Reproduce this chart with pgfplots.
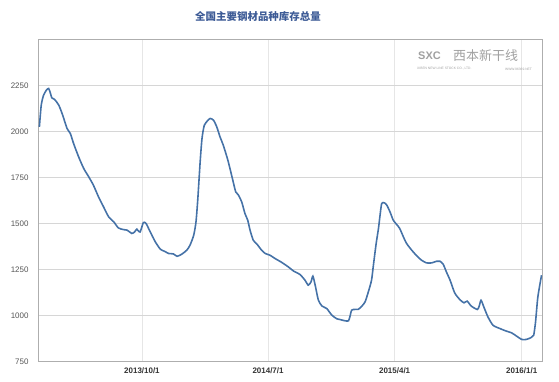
\documentclass[border=0pt]{standalone}
\usepackage{pgfplots}
\pgfplotsset{compat=1.18}
\usepackage{fontspec}
\setmainfont{Liberation Sans}
\newfontfamily\cjk{Noto Sans CJK SC}
\definecolor{series}{HTML}{4572A7}
\definecolor{titleblue}{HTML}{3D5B96}
\definecolor{gridc}{HTML}{D6D6D6}
\definecolor{vgrid}{HTML}{E6E6E6}
\definecolor{framec}{HTML}{AEAEAE}
\definecolor{ticklab}{HTML}{555555}
\definecolor{wm}{HTML}{A0A0A0}
\begin{document}
\begin{tikzpicture}
\useasboundingbox (0,0) rectangle (559bp,382bp);
\begin{axis}[
 at={(38bp,20.3bp)}, anchor=south west,
 scale only axis, width=504bp, height=322bp,
 xmin=-225, xmax=866, ymin=750, ymax=2500,
 xtick={0,273,547,822}, xticklabels={2013/10/1,2014/7/1,2015/4/1,2016/1/1},
 ytick={750,1000,...,2250},
 xmajorgrids, ymajorgrids,
 x grid style={draw=vgrid, line width=0.8pt},
 y grid style={draw=gridc, line width=0.8pt},
 axis line style={draw=framec, line width=0.9pt},
 major tick length=0pt,
 tick label style={font=\fontsize{8}{9}\selectfont},
 yticklabel style={color=ticklab, xshift=-6bp},
 xticklabel style={color=black!80, yshift=-3bp, font=\bfseries\fontsize{8}{9}\selectfont},
 /pgf/number format/assume math mode=true,
 /pgf/number format/1000 sep={},
]
\addplot[series, line width=1.6pt, smooth, tension=0.4] coordinates {
(-222,2026) (-218,2144) (-213,2198) (-207,2225) (-202,2235) (-198,2208) (-195,2184) (-189,2175) (-180,2144) (-172,2093) (-162,2017) (-155,1990) (-148,1936) (-137,1863) (-126,1800) (-115,1754) (-105,1709) (-94,1646) (-83,1591) (-72,1537) (-61,1510) (-51,1477) (-40,1468) (-32,1465) (-22,1447) (-16,1455) (-11,1470) (-4,1455) (3,1506) (9,1501) (18,1455) (29,1401) (40,1361) (49,1350) (58,1338) (68,1336) (76,1323) (86,1334) (97,1356) (104,1383) (112,1437) (117,1510) (121,1637) (126,1836) (130,1963) (135,2035) (143,2062) (148,2072) (155,2062) (162,2026) (169,1972) (176,1927) (186,1845) (195,1754) (203,1673) (209,1655) (216,1618) (223,1555) (229,1519) (234,1465) (241,1410) (249,1389) (259,1356) (267,1338) (277,1329) (288,1311) (303,1289) (317,1265) (328,1243) (342,1224) (353,1193) (360,1166) (366,1184) (370,1215) (375,1166) (382,1084) (390,1052) (400,1039) (411,1003) (422,983) (429,979) (440,972) (447,972) (450,993) (454,1030) (461,1034) (468,1034) (476,1052) (483,1075) (490,1129) (497,1193) (501,1274) (507,1392) (512,1474) (515,1537) (519,1610) (525,1613) (530,1601) (537,1564) (544,1519) (551,1497) (558,1474) (566,1428) (573,1392) (584,1356) (595,1325) (605,1302) (616,1287) (627,1287) (638,1296) (645,1296) (652,1280) (659,1238) (667,1193) (677,1124) (688,1088) (697,1070) (704,1079) (713,1052) (726,1034) (730,1052) (734,1084) (740,1048) (749,993) (760,948) (775,930) (789,916) (800,907) (811,889) (822,871) (832,871) (843,882) (848,894) (852,966) (857,1102) (865,1220)
};
\end{axis}
\node[font=\bfseries\fontsize{11}{12}\selectfont, text=wm, anchor=west, inner sep=0pt] at (418bp,326bp) {SXC};
\node[font=\cjk\fontsize{13}{14}\selectfont, text=wm, anchor=west, inner sep=0pt] at (453bp,326bp) {西本新干线};
\node[font=\fontsize{3.3}{4}\selectfont, text=wm, anchor=west, inner sep=0pt] at (417bp,313bp) {XIBEN NEW LINE STOCK CO., LTD.};
\node[font=\fontsize{3.3}{4}\selectfont, text=wm, anchor=west, inner sep=0pt] at (505bp,313bp) {WWW.96369.NET};
\node[font=\cjk\bfseries\fontsize{10.5}{12}\selectfont, text=titleblue] at (258bp,365bp) {全国主要钢材品种库存总量};
\end{tikzpicture}
\end{document}
